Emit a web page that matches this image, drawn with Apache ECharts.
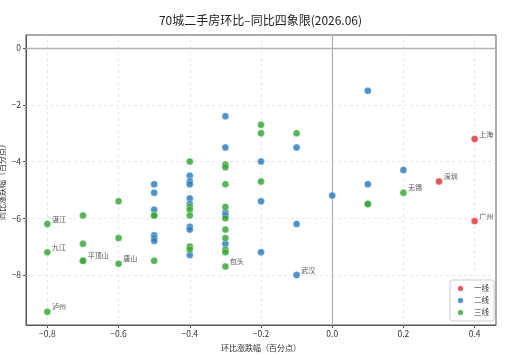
<!DOCTYPE html>
<html>
<head>
<meta charset="utf-8">
<script src="https://cdn.jsdelivr.net/npm/echarts@6/dist/echarts.min.js"></script>
<style>
  html, body { margin: 0; padding: 0; background: #fff; }
  #chart { width: 521px; height: 354px; }
</style>
</head>
<body>
<div id="chart"></div>
<script>
// 一线
const tier1X = [0.4, 0.3, 0.4]
const tier1Y = [-3.2, -4.7, -6.1]
const tier1Names = ['上海', '深圳', '广州']

// 二线
const tier2X = [0.1, 0.2, 0.1, 0.0,
  -0.5, -0.5, -0.5, -0.5, -0.5, -0.5,
  -0.4, -0.4, -0.4, -0.4, -0.4, -0.4, -0.4, -0.4,
  -0.3, -0.3, -0.3, -0.3, -0.3,
  -0.2, -0.2, -0.2,
  -0.1, -0.1, -0.1]
const tier2Y = [-1.5, -4.3, -4.8, -5.2,
  -4.8, -5.1, -5.7, -6.6, -6.7, -6.8,
  -4.5, -4.7, -4.8, -5.3, -5.5, -6.3, -6.4, -7.3,
  -2.4, -3.5, -5.8, -5.9, -6.9,
  -4.0, -5.4, -7.2,
  -3.5, -6.2, -8.0]
const tier2Names = ['', '', '', '',
  '', '', '', '', '', '',
  '', '', '', '', '', '', '', '',
  '', '', '', '', '',
  '', '', '',
  '', '', '武汉']

// 三线
const tier3X = [0.2, 0.1, 0.1,
  -0.8, -0.8, -0.8,
  -0.7, -0.7, -0.7, -0.7,
  -0.6, -0.6, -0.6,
  -0.5, -0.5, -0.5,
  -0.4, -0.4, -0.4, -0.4, -0.4, -0.4,
  -0.3, -0.3, -0.3, -0.3, -0.3, -0.3, -0.3, -0.3, -0.3, -0.3,
  -0.2, -0.2, -0.2,
  -0.1]
const tier3Y = [-5.1, -5.5, -5.5,
  -6.2, -7.2, -9.3,
  -5.9, -6.9, -7.5, -7.5,
  -5.4, -6.7, -7.6,
  -5.9, -5.9, -7.5,
  -4.0, -5.6, -5.7, -5.9, -7.0, -7.1,
  -4.1, -4.2, -4.8, -5.6, -6.0, -6.4, -6.7, -7.1, -7.2, -7.7,
  -2.7, -3.0, -4.7,
  -3.0]
const tier3Names = ['无锡', '', '',
  '湛江', '九江', '泸州',
  '', '', '平顶山', '',
  '', '', '唐山',
  '', '', '',
  '', '', '', '', '', '',
  '', '', '', '', '', '', '', '', '', '包头',
  '', '', '',
  '']

const xTicks = [-0.8, -0.6, -0.4, -0.2, 0.0, 0.2, 0.4]
const yTicks = [-8, -6, -4, -2, 0]

const FONT = '"Noto Sans CJK SC", "DejaVu Sans", sans-serif'
const minus = s => String(s).replace('-', '\u2212')

function buildData(xs, ys, names){
    return xs.map((x, i) => ({
        value: [x, ys[i]],
        name: names[i],
        label: { show: names[i] !== '' }
    }))
}

function makeSeries(name, color, xs, ys, names){
    return {
        name: name,
        type: 'scatter',
        symbolSize: 7,
        z: 3,
        itemStyle: { color: color, opacity: 0.85, borderColor: '#fff', borderWidth: 0.4 },
        label: {
            position: 'right',
            distance: 1,
            offset: [0, -5],
            formatter: p => p.name,
            fontSize: 7,
            color: '#333',
            fontFamily: FONT
        },
        emphasis: { disabled: true },
        data: buildData(xs, ys, names)
    }
}

const chart = echarts.init(document.getElementById('chart'))

// grid lines (dashed) + zero lines (solid), drawn as markLines under the points
const dashed = { color: '#e2e2e2', width: 0.8, type: [3, 3] }
const gridLines = []
xTicks.filter(v => v !== 0).forEach(v => gridLines.push({ xAxis: v, lineStyle: dashed }))
yTicks.filter(v => v !== 0).forEach(v => gridLines.push({ yAxis: v, lineStyle: dashed }))
const solid = { color: '#b4b4b4', width: 1.3, type: 'solid' }
gridLines.push({ xAxis: 0, lineStyle: solid })
gridLines.push({ yAxis: 0, lineStyle: solid })

const refLines = makeSeries('', 'transparent', [], [], [])
refLines.z = 1
refLines.markLine = {
    silent: true,
    z: 1,
    symbol: 'none',
    label: { show: false },
    data: gridLines
}

chart.setOption({
    animation: false,
    title: {
        text: '70城二手房环比–同比四象限(2026.06)',
        left: 'center',
        top: 9,
        textStyle: { fontSize: 12, fontWeight: 'normal', color: '#222', fontFamily: FONT }
    },
    grid: {
        left: 26, right: 25, top: 35, bottom: 29,
        outerBoundsMode: 'none',
        containLabel: false,
        show: true, borderColor: '#555', borderWidth: 1
    },
    legend: {
        orient: 'vertical',
        right: 27,
        bottom: 33,
        data: ['一线', '二线', '三线'],
        icon: 'circle',
        itemWidth: 7,
        itemHeight: 7,
        itemGap: 3,
        padding: [4, 5, 4, 6],
        backgroundColor: '#fff',
        borderColor: '#ccc',
        borderWidth: 1,
        borderRadius: 2,
        textStyle: { fontSize: 7.5, color: '#333', fontFamily: FONT, padding: [0, 0, 0, 5] }
    },
    xAxis: {
        type: 'value',
        min: -0.86,
        max: 0.46,
        name: '环比涨跌幅（百分点）',
        nameLocation: 'middle',
        nameGap: 19,
        nameMoveOverlap: false,
        nameTextStyle: { fontSize: 8, color: '#333', fontFamily: FONT },
        axisLine: { show: true, onZero: false, lineStyle: { color: '#555' } },
        axisTick: { show: true, length: 3, lineStyle: { color: '#555' },
            customValues: xTicks },
        axisLabel: {
            fontSize: 8.5, color: '#333', margin: 5, fontFamily: FONT,
            customValues: xTicks,
            formatter: v => minus(v.toFixed(1))
        },
        splitLine: { show: false }
    },
    yAxis: {
        type: 'value',
        min: -9.765,
        max: 0.465,
        name: '同比涨跌幅（百分点）',
        nameLocation: 'middle',
        nameGap: 20,
        nameMoveOverlap: false,
        nameTextStyle: { fontSize: 8, color: '#333', fontFamily: FONT },
        axisLine: { show: true, onZero: false, lineStyle: { color: '#555' } },
        axisTick: { show: true, length: 3, lineStyle: { color: '#555' },
            customValues: yTicks },
        axisLabel: {
            fontSize: 8.5, color: '#333', margin: 5, fontFamily: FONT,
            customValues: yTicks,
            formatter: v => minus(Math.round(v))
        },
        splitLine: { show: false }
    },
    series: [
        refLines,
        makeSeries('一线', '#dd3b3b', tier1X, tier1Y, tier1Names),
        makeSeries('二线', '#2f7fc0', tier2X, tier2Y, tier2Names),
        makeSeries('三线', '#3aa83a', tier3X, tier3Y, tier3Names)
    ]
})
</script>
</body>
</html>
